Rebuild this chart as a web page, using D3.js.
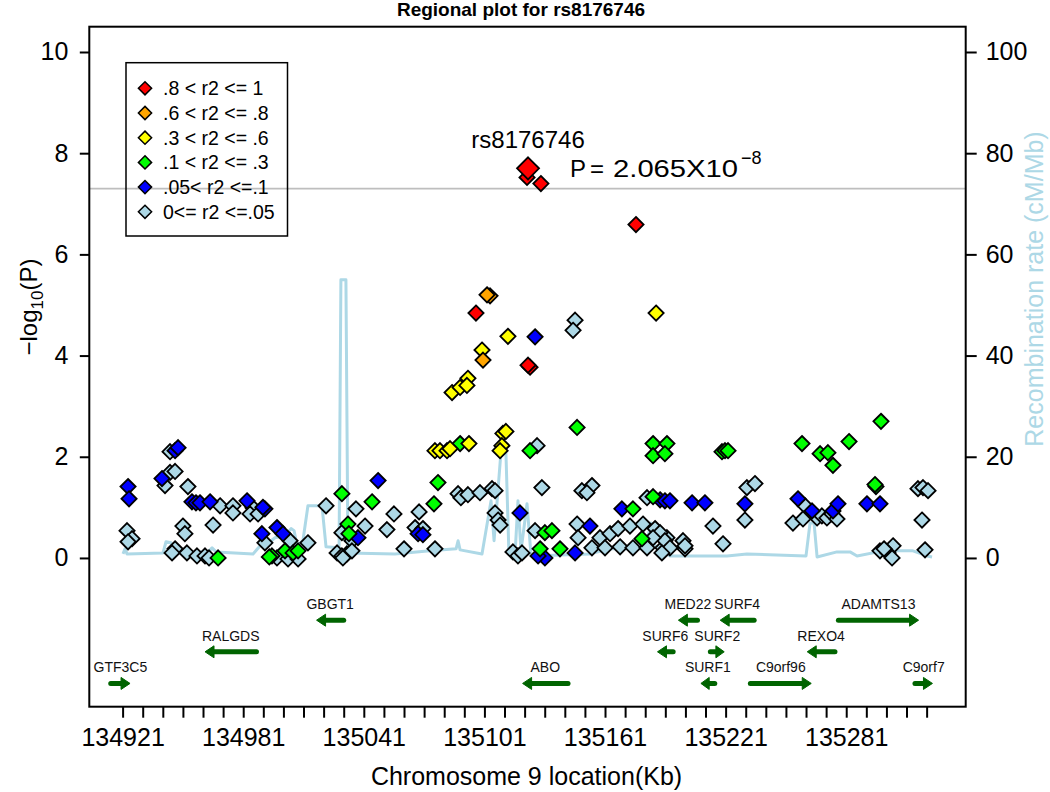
<!DOCTYPE html>
<html>
<head>
<meta charset="utf-8">
<script src="https://cdn.jsdelivr.net/npm/d3@7"></script>
<style>
  html, body { margin: 0; padding: 0; background: #fff; }
  svg text { font-family: "Liberation Sans", Arial, Helvetica, sans-serif; }
</style>
</head>
<body>
<svg id="chart" width="1050" height="792"></svg>
<script>
// ---------------- DATA ----------------
const r2Labels = [".8 < r2 <= 1", ".6 < r2 <= .8", ".3 < r2 <= .6", ".1 < r2 <= .3", ".05< r2 <=.1", "0<= r2 <=.05"];
const r2Colors = ["#FF0000", "#FFA500", "#FFFF00", "#00FF00", "#0000FF", "#ADD8E6"];

const indexSnp = "rs8176746";
const indexPos = 135122.7;
const indexLogP = 7.70;

// SNP positions (Kb), -log10(P), r2 class (0 = highest .. 5 = lowest)
const snpPos = [
  134923.7,134924.2,134923.2,134925.7,134923.7,
  134944.6,134947.1,134948.6,134940.6,134944.6,134947.1,134942.1,134953.5,
  134955.5,134957.5,134959.5,134964.5,
  134969.5,134975.9,134975.9,134982.9,134985.9,134984.4,134988.4,134991.8,134990.8,
  134951.0,134952.0,134966.0,
  134947.1,134945.6,134953.0,134958.0,134962.0,134964.0,134968.5,
  134990.3,134991.8,134997.8,135000.8,135004.3,135013.2,
  134995.3,135001.8,135005.8,135008.3,134997.8,135003.3,135008.3,134994.0,
  135022.2,135030.1,135037.1,135045.1,135048.1,
  135033.1,135033.6,135041.6,135038.1,135035.1,135030.1,
  135027.7,135030.1,135032.6,135030.6,135035.1,
  135056.0,135052.5,135061.0,135068.5,135066.5,135070.4,135068.0,135070.4,
  135077.9,135075.9,135076.4,
  135087.9,135089.3,135092.8,135098.8,135104.8,135106.3,
  135106.3,135107.8,135108.8,135118.7,135115.2,135117.7,135119.7,
  135103.8,135102.3,135096.8,135112.7,135126.2,135146.1,135145.1,135186.4,
  135099.8,135100.3,135123.7,135122.7,
  135084.9,135088.9,135092.8,135092.3,
  135076.4,135078.9,135082.4,135083.9,135088.9,135093.3,
  135110.2,135111.7,135109.7,135108.8,135123.7,135127.2,135147.1,
  135129.6,135149.5,135154.5,135152.0,
  135122.2,135129.1,135176.4,
  135128.7,135138.6,135131.1,135134.6,135126.2,
  135146.1,135131.1,135127.7,135153.5,135147.1,135147.6,
  135158.5,135163.5,135167.5,135173.4,135179.9,135185.9,135188.4,135191.8,135199.8,
  135154.5,135161.0,135168.5,135174.9,135181.9,135189.8,135200.8,
  135179.4,135169.4,135174.9,
  135184.9,135191.8,135184.9,135190.8,
  135184.9,135181.9,135188.4,135190.8,135193.3,135204.3,135210.7,
  135219.2,135220.7,135222.2,
  135231.6,135235.6,135230.6,135214.7,135230.6,135219.7,
  135188.4,135190.8,135193.3,135189.3,135200.8,135184.9,
  135259.0,135268.0,135271.9,135274.4,135282.4,135298.3,135295.8,135295.3,
  135316.7,135319.2,135321.7,
  135257.0,135260.5,135264.0,135266.5,135268.9,135271.4,135273.9,135274.4,135276.9,135276.4,135254.5,135259.5,
  135291.3,135297.8,135318.7,
  135297.8,135304.3,135301.8,135303.8,135320.2,135299.8
];
const snpLogP = [
  1.41,1.17,0.54,0.38,0.32,
  2.10,2.12,2.18,1.57,1.69,1.71,1.43,1.41,
  1.11,1.09,1.09,1.11,
  1.03,1.03,0.89,1.13,0.99,0.87,0.87,0.97,1.00,
  0.63,0.48,0.65,
  0.18,0.10,0.10,0.04,0.04,0.00,0.00,
  0.48,0.30,0.60,0.48,0.34,0.30,
  0.04,0.14,0.10,0.14,0.00,-0.02,-0.02,0.02,
  1.03,1.27,0.97,1.11,1.53,
  0.67,0.48,0.63,0.40,0.34,0.50,
  0.10,0.04,0.08,0.00,0.14,
  0.87,0.56,0.18,0.91,0.60,0.58,0.48,0.46,
  1.49,1.07,0.18,
  1.27,1.19,1.25,1.29,1.37,1.33,
  0.89,0.75,0.65,0.89,0.12,0.04,0.10,
  5.18,5.20,4.84,4.38,4.37,4.70,4.50,4.84,
  4.11,3.91,3.77,3.81,
  3.27,3.37,3.55,3.41,
  2.12,2.12,2.12,2.16,2.26,2.26,
  2.46,2.50,2.22,2.12,2.12,2.22,2.58,
  1.39,1.33,1.43,1.29,
  7.52,7.40,6.59,
  0.18,0.18,0.50,0.54,0.54,
  0.10,0.00,0.04,0.63,0.67,0.40,
  0.40,0.48,0.58,0.63,0.67,0.58,0.48,0.40,0.34,
  0.20,0.20,0.22,0.20,0.20,0.20,0.18,
  0.38,0.97,0.97,
  2.26,2.26,2.02,2.06,
  1.21,1.19,1.15,1.13,1.13,1.09,1.09,
  2.10,2.12,2.12,
  1.39,1.47,1.07,0.63,0.75,0.28,
  0.50,0.34,0.20,0.10,0.24,0.40,
  2.26,2.06,2.08,1.83,2.30,2.70,1.41,1.45,
  1.37,1.39,1.33,
  1.17,1.03,0.93,0.79,0.83,0.79,0.87,0.93,1.07,0.77,0.69,0.77,
  1.07,1.07,0.75,
  0.14,0.24,0.10,0.00,0.16,0.18
];
const snpClass = [
  4,4,5,5,5,
  5,4,4,4,5,5,5,5,
  4,4,4,4,
  5,5,5,4,5,5,5,4,4,
  5,5,5,
  5,5,5,5,5,5,3,
  4,5,4,4,5,5,
  3,3,3,3,5,5,5,3,
  5,3,5,3,4,
  3,3,5,4,5,5,
  5,5,5,5,5,
  5,5,5,5,5,5,4,4,
  3,3,5,
  5,5,5,5,5,5,
  5,5,5,4,5,5,5,
  1,1,0,2,4,5,5,2,
  2,1,0,0,
  2,2,2,2,
  2,2,2,2,3,2,
  2,2,2,2,3,5,3,
  5,5,5,5,
  0,0,0,
  3,3,3,3,5,
  4,4,4,4,5,5,
  5,5,5,5,5,5,5,5,5,
  5,5,5,5,5,5,5,
  3,4,3,
  3,3,3,3,
  3,5,4,4,4,4,4,
  3,3,3,
  5,5,4,5,5,5,
  5,5,5,5,5,5,
  3,3,3,3,3,3,3,3,
  5,5,5,
  4,5,4,5,5,5,5,4,4,5,5,5,
  4,4,5,
  5,5,5,5,5,5
];

// Recombination rate (cM/Mb) along the region
const recombPos = [
  134921.2,134922.2,134923.2,134941.1,134942.6,134945.1,134946.1,134963.5,134965.5,134967.5,
  134985.9,134990.3,134994.3,134996.8,135001.8,135004.8,135006.3,135007.8,135010.7,135013.2,
  135020.2,135022.2,135028.7,135029.6,135032.1,135033.1,135056.5,135073.9,135086.9,135087.9,
  135088.9,135099.8,135104.3,135105.8,135109.2,135111.7,135113.2,135116.2,135117.7,135119.2,
  135122.2,135124.2,135153.5,135163.5,135180.9,135183.9,135185.9,135193.3,135221.7,135231.6,
  135261.0,135263.0,135265.0,135266.5,135276.4,135282.9,135286.4,135299.3,135314.2,135321.2,135323.7
];
const recombRate = [
  0.8,1.8,0.8,1.0,3.2,3.0,1.2,1.2,2.0,1.2,
  0.8,2.8,3.2,4.0,4.4,5.8,5.4,2.4,3.4,10.3,
  10.3,2.2,2.0,55.0,55.0,1.0,0.8,1.4,1.8,3.4,
  1.6,0.8,11.3,3.4,20.8,20.8,0.8,0.4,11.3,1.4,
  10.7,0.4,0.8,1.8,1.8,6.9,2.4,0.4,0.4,0.8,
  0.4,6.9,6.9,0.2,1.2,1.2,0.4,1.4,1.4,0.4,0.2
];

// Genes: name, start (Kb), end (Kb), strand, track row
const geneNames  = ["GTF3C5","RALGDS","GBGT1","ABO","MED22","SURF4","ADAMTS13","SURF6","SURF2","REXO4","SURF1","C9orf96","C9orf7"];
const geneStart  = [134915.1,134962.0,135017.5,135120.0,135197.5,135218.3,135277.1,135187.1,135213.4,135261.6,135208.7,135233.3,135315.2];
const geneEnd    = [134924.7,134987.6,135031.0,135142.6,135207.0,135235.2,135317.0,135194.9,135220.3,135275.4,135215.6,135263.6,135323.9];
const geneStrand = [1,-1,-1,-1,-1,-1,1,-1,1,-1,-1,1,1];
const geneRow    = [2,1,0,2,0,0,0,1,1,1,2,2,2];
const rowLevels  = [-1.23,-1.855,-2.48];

const xTickValues = d3.range(134921, 135322, 10);
const xLabelValues = [134921,134981,135041,135101,135161,135221,135281];
const yTickValues = [0,2,4,6,8,10];
const rateTickValues = [0,20,40,60,80,100];
const gwsLine = 7.3;

// ---------------- LAYOUT ----------------
const L = 89.3, R = 965.7, T = 26.7, B = 706.7;
const svg = d3.select("#chart");

const x = d3.scaleLinear().domain([134904.43, 135340.44]).range([L, R]);
const y = d3.scaleLinear().domain([-2.94, 10.50]).range([B, T]);
const yRate = d3.scaleLinear().domain([-29.4, 105.0]).range([B, T]);

// Title
svg.append("text").attr("x", 521).attr("y", 16)
  .attr("text-anchor", "middle").attr("font-size", 19).attr("font-weight", "bold")
  .text("Regional plot for " + indexSnp);

// Recombination line
svg.append("path")
  .datum(recombPos.map((p, i) => [p, recombRate[i]]))
  .attr("fill", "none").attr("stroke", "#ADD8E6").attr("stroke-width", 3)
  .attr("stroke-linejoin", "round")
  .attr("d", d3.line().x(d => x(d[0])).y(d => yRate(d[1])));

// Genome-wide significance line
svg.append("line")
  .attr("x1", L).attr("x2", R).attr("y1", y(gwsLine)).attr("y2", y(gwsLine))
  .attr("stroke", "#BEBEBE").attr("stroke-width", 1.6);

// Legend
const lg = svg.append("g");
lg.append("rect").attr("x", 126).attr("y", 62.7).attr("width", 161.5).attr("height", 173.3)
  .attr("fill", "none").attr("stroke", "#000").attr("stroke-width", 1.5);
const diamond = h => `M0,${-h}L${h},0L0,${h}L${-h},0Z`;
r2Labels.forEach((lab, i) => {
  const cy = 88.3 + i * 24.7;
  lg.append("path").attr("d", diamond(6.6)).attr("transform", `translate(145,${cy})`)
    .attr("fill", r2Colors[i]).attr("stroke", "#000").attr("stroke-width", 1.5);
  lg.append("text").attr("x", 163).attr("y", cy + 7).attr("font-size", 19.5).text(lab);
});

// SNP points
const snps = snpPos.map((p, i) => ({pos: p, lp: snpLogP[i], c: snpClass[i]}))
  .sort((a, b) => b.c - a.c);
svg.append("g").selectAll("path").data(snps).join("path")
  .attr("d", diamond(7.6))
  .attr("transform", d => `translate(${x(d.pos)},${y(d.lp)})`)
  .attr("fill", d => r2Colors[d.c]).attr("stroke", "#000").attr("stroke-width", 1.8);

// Index SNP
svg.append("path").attr("d", diamond(11))
  .attr("transform", `translate(${x(indexPos)},${y(indexLogP)})`)
  .attr("fill", r2Colors[0]).attr("stroke", "#000").attr("stroke-width", 1.8);

svg.append("text").attr("x", x(indexPos)).attr("y", y(indexLogP) - 20.5)
  .attr("text-anchor", "middle").attr("font-size", 24).text(indexSnp);
const px0 = x(indexPos) + 42, py0 = y(indexLogP) + 9;
svg.append("text").attr("x", px0).attr("y", py0).attr("font-size", 24).text("P");
svg.append("text").attr("x", px0 + 20).attr("y", py0).attr("font-size", 24).text("=");
svg.append("text").attr("x", px0 + 43).attr("y", py0).attr("font-size", 24)
  .attr("textLength", 125).attr("lengthAdjust", "spacingAndGlyphs").text("2.065X10");
svg.append("text").attr("x", px0 + 171).attr("y", py0 - 13).attr("font-size", 18).text("\u22128");

// Genes
const gcol = "#006400";
const gg = svg.append("g");
geneNames.forEach((name, i) => {
  const gy = y(rowLevels[geneRow[i]]);
  const x1 = x(geneStart[i]), x2 = x(geneEnd[i]);
  const head = Math.min(9, (x2 - x1) * 0.6);
  const tip = geneStrand[i] > 0 ? x2 : x1;
  const dir = geneStrand[i] > 0 ? 1 : -1;
  const tail = geneStrand[i] > 0 ? x1 : x2;
  gg.append("line").attr("x1", tail).attr("x2", tip - dir * head * 0.8)
    .attr("y1", gy).attr("y2", gy)
    .attr("stroke", gcol).attr("stroke-width", 5).attr("stroke-linecap", "round");
  gg.append("path")
    .attr("d", `M${tip},${gy}L${tip - dir * head},${gy - 6}L${tip - dir * head},${gy + 6}Z`)
    .attr("fill", gcol).attr("stroke", gcol).attr("stroke-width", 1).attr("stroke-linejoin", "round");
  gg.append("text").attr("x", (x1 + x2) / 2).attr("y", gy - 11)
    .attr("text-anchor", "middle").attr("font-size", 14).attr("fill", "#111").text(name);
});

// Box
svg.append("rect").attr("x", L).attr("y", T).attr("width", R - L).attr("height", B - T)
  .attr("fill", "none").attr("stroke", "#000").attr("stroke-width", 2);

// Axes
const xAxis = d3.axisBottom(x).tickValues(xTickValues).tickSize(11).tickPadding(11)
  .tickFormat(d => xLabelValues.includes(d) ? String(d) : "");
const gx = svg.append("g").attr("transform", `translate(0,${B})`).call(xAxis);
const yAxis = d3.axisLeft(y).tickValues(yTickValues).tickSize(9.5).tickPadding(11.5).tickFormat(d3.format("d"));
const gy = svg.append("g").attr("transform", `translate(${L},0)`).call(yAxis);
const rAxis = d3.axisRight(yRate).tickValues(rateTickValues).tickSize(11).tickPadding(9).tickFormat(d3.format("d"));
const gr = svg.append("g").attr("transform", `translate(${R},0)`).call(rAxis);
[gx, gy, gr].forEach(g => {
  g.select(".domain").remove();
  g.selectAll(".tick line").attr("stroke", "#000").attr("stroke-width", 2);
  g.selectAll(".tick text").attr("font-size", 25).attr("fill", "#000")
    .attr("font-family", "Liberation Sans, Arial, sans-serif");
});

// Axis titles
svg.append("text").attr("x", (L + R) / 2 - 1).attr("y", 785)
  .attr("text-anchor", "middle").attr("font-size", 25).text("Chromosome 9 location(Kb)");

const yl = svg.append("text").attr("transform", "translate(37,307) rotate(-90)")
  .attr("text-anchor", "middle").attr("font-size", 24);
yl.append("tspan").text("\u2212log");
yl.append("tspan").attr("font-size", 17).attr("dy", 6).text("10");
yl.append("tspan").attr("dy", -6).text("(P)");

svg.append("text").attr("transform", "translate(1043,289) rotate(-90)")
  .attr("text-anchor", "middle").attr("font-size", 25).attr("fill", "#ADD8E6")
  .text("Recombination rate (cM/Mb)");
</script>
</body>
</html>
